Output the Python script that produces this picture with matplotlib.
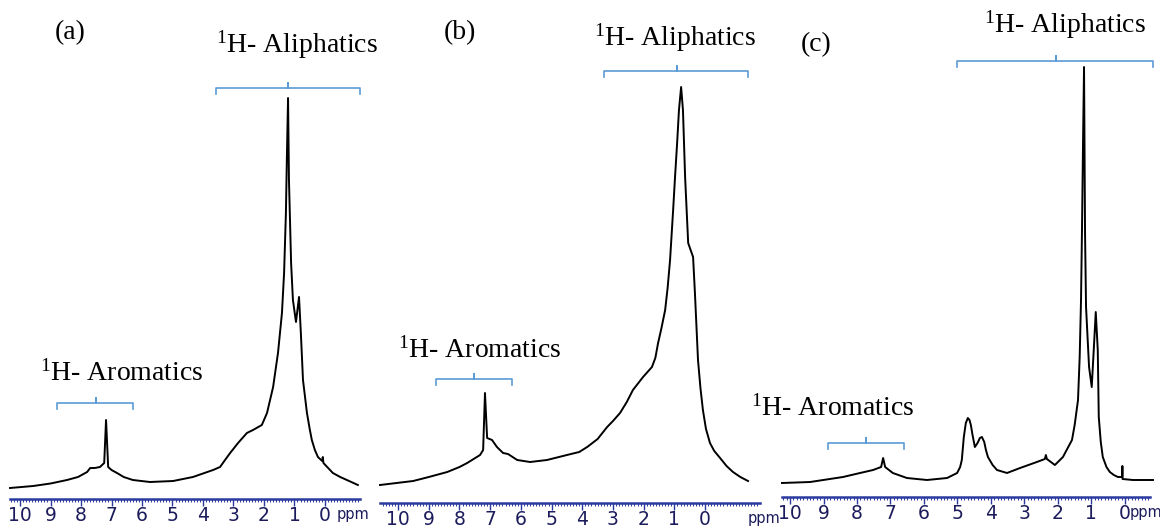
import matplotlib
matplotlib.use("Agg")
import matplotlib.pyplot as plt
from matplotlib import font_manager
from matplotlib.ticker import MultipleLocator

# ---------------- data (ppm, relative intensity a.u.) ----------------
ppm_a = [10.33, 9.57, 9.00, 8.46, 8.10, 7.80, 7.70, 7.55, 7.38, 7.24, 7.18, 7.11,
         7.00, 6.82, 6.60, 6.30, 5.74, 4.98, 4.33, 3.67, 3.44, 3.30, 3.11, 2.85,
         2.56, 2.36, 2.07, 1.90, 1.70, 1.54, 1.41, 1.34, 1.28, 1.25, 1.21, 1.18,
         1.11, 1.05, 0.95, 0.85, 0.79, 0.72, 0.59, 0.50, 0.43, 0.33, 0.23, 0.09,
         0.07, 0.05, -0.26, -0.50, -0.72, -1.08]
int_a = [11, 13, 15.5, 19, 22, 27, 31, 31, 32, 36, 79, 32,
         29, 26, 22, 19, 17, 18, 22, 29, 32, 38, 46, 56,
         66, 69, 74, 86, 112, 146, 186, 226, 286, 339, 401, 319,
         236, 199, 177, 202, 166, 119, 86, 70, 59, 49, 42, 38,
         42, 36, 26, 22, 19, 14]

ppm_b = [10.59, 9.51, 9.00, 8.40, 8.00, 7.75, 7.33, 7.23, 7.17, 7.10, 6.94, 6.78,
         6.58, 6.42, 6.12, 5.70, 5.15, 4.50, 4.10, 3.84, 3.50, 3.19, 3.00, 2.77,
         2.55, 2.35, 2.02, 1.73, 1.62, 1.53, 1.42, 1.30, 1.22, 1.14, 1.04, 0.98,
         0.91, 0.85, 0.78, 0.72, 0.65, 0.55, 0.39, 0.33, 0.23, 0.15, 0.07, -0.03,
         -0.16, -0.30, -0.49, -0.70, -0.91, -1.15, -1.40]
int_b = [18, 22, 26, 31, 36, 40, 48, 53, 110, 65, 63, 56,
         50, 49, 43, 41, 43, 48, 51, 56, 64, 76, 82, 90,
         101, 113, 126, 136, 145, 160, 175, 193, 215, 243, 293, 325,
         360, 393, 416, 393, 326, 260, 246, 210, 143, 115, 93, 74,
         60, 52, 45, 37, 31, 26, 22]

ppm_c = [10.24, 9.40, 8.42, 7.91, 7.52, 7.28, 7.22, 7.16, 6.93, 6.51, 5.91, 5.31,
         5.01, 4.92, 4.87, 4.81, 4.75, 4.69, 4.64, 4.60, 4.55, 4.48, 4.40, 4.33,
         4.27, 4.20, 4.15, 4.09, 3.95, 3.82, 3.52, 3.13, 2.63, 2.39, 2.36, 2.33,
         2.09, 1.85, 1.58, 1.50, 1.40, 1.35, 1.31, 1.28, 1.25, 1.22, 1.19, 1.16,
         1.07, 0.99, 0.93, 0.87, 0.81, 0.78, 0.72, 0.66, 0.55, 0.45, 0.33, 0.21,
         0.09, 0.08, 0.075, 0.07, -0.24, -0.84]
int_c = [14, 15, 20, 24, 27, 30, 39, 30, 24, 19, 17, 19,
         24, 30, 37, 60, 74, 79, 77, 72, 62, 50, 54, 59,
         60, 55, 47, 40, 32, 27, 24, 29, 35, 38, 42, 38,
         32, 40, 57, 72, 97, 140, 197, 270, 354, 430, 264, 190,
         130, 110, 147, 185, 147, 80, 55, 40, 30, 25, 22, 20,
         20, 20, 31, 18, 17, 17]

panel_labels = ["(a)", "(b)", "(c)"]
tick_values = list(range(0, 11))
tick_labels = [str(v) for v in tick_values]

# ---------------- styling ----------------
names = {f.name for f in font_manager.fontManager.ttflist}
tick_font = "Liberation Sans Narrow" if "Liberation Sans Narrow" in names else "DejaVu Sans"
serif = "Liberation Serif"
plt.rcParams["mathtext.fontset"] = "custom"
plt.rcParams["mathtext.rm"] = serif
plt.rcParams["mathtext.it"] = serif

W, H = 1160, 531
fig = plt.figure(figsize=(W / 100, H / 100), dpi=100)
fig.patch.set_facecolor("white")

axis_blue = "#2b3a9e"
label_navy = "#1c1c5c"
brace_blue = "#5b9bd5"

panels = [
    dict(x=ppm_a, y=int_a, px=(10, 360, 499), xlim=(10.33, -1.15), ppm_x=-0.92,
         lab=(8.36, 466), ali_txt=(0.92, 454), aro_txt=(6.66, 126),
         ali_br=(3.57, -1.15, 1.21, 411), aro_br=(8.79, 6.30, 7.51, 96)),
    dict(x=ppm_b, y=int_b, px=(380, 760, 503), xlim=(10.59, -1.79), ppm_x=-1.93,
         lab=(7.98, 470), ali_txt=(0.98, 465), aro_txt=(7.33, 153),
         ali_br=(3.29, -1.40, 0.91, 432), aro_br=(8.76, 6.29, 7.52, 124)),
    dict(x=ppm_c, y=int_c, px=(782, 1150, 497), xlim=(10.24, -0.75), ppm_x=-0.62,
         lab=(9.22, 452), ali_txt=(1.79, 472), aro_txt=(8.72, 89),
         ali_br=(5.01, -0.84, 2.06, 436), aro_br=(8.87, 6.60, 7.73, 54)),
]


def brace(ax, xl, xr, xc, h):
    d = 6
    t = 5
    ax.plot([xl, xl, xc, xc, xc, xr, xr], [h - d, h, h, h + t, h, h, h - d],
            color=brace_blue, lw=1.2, clip_on=False, solid_joinstyle="round")


for i, p in enumerate(panels):
    l, r, sy = p["px"]
    ax = fig.add_axes([l / W, (H - sy) / H, (r - l) / W, sy / H])
    ax.set_facecolor("none")
    ax.plot(p["x"], p["y"], color="black", lw=1.4, clip_on=False,
            solid_joinstyle="round")
    ax.set_xlim(*p["xlim"])
    ax.set_ylim(0, sy)
    for s in ("left", "right", "top"):
        ax.spines[s].set_visible(False)
    ax.spines["bottom"].set_color(axis_blue)
    ax.spines["bottom"].set_linewidth(1.8)
    ax.set_yticks([])
    ax.set_xticks(tick_values)
    ax.set_xticklabels(tick_labels)
    ax.xaxis.set_minor_locator(MultipleLocator(0.1))
    ax.tick_params(axis="x", which="major", direction="out", length=5, width=1.0,
                   color=axis_blue, pad=0, labelsize=13.5, labelcolor=label_navy)
    ax.tick_params(axis="x", which="minor", direction="out", length=2.5, width=0.7,
                   color=axis_blue)
    for t in ax.get_xticklabels():
        t.set_fontfamily(tick_font)
    ax.annotate("ppm", xy=(p["ppm_x"], 0), xycoords=ax.get_xaxis_transform(),
                xytext=(0, -11), textcoords="offset points", ha="center", va="center",
                fontsize=10.5, color=label_navy, family=tick_font, annotation_clip=False)

    ax.text(p["lab"][0], p["lab"][1], panel_labels[i], fontsize=20, family=serif,
            ha="center", va="center", clip_on=False)
    ax.text(p["ali_txt"][0], p["ali_txt"][1], r"$^{1}$H- Aliphatics", fontsize=20,
            family=serif, ha="center", va="center", clip_on=False)
    ax.text(p["aro_txt"][0], p["aro_txt"][1], r"$^{1}$H- Aromatics", fontsize=20,
            family=serif, ha="center", va="center", clip_on=False)
    brace(ax, *p["ali_br"])
    brace(ax, *p["aro_br"])

fig.savefig("out.png", dpi=100, facecolor="white")
